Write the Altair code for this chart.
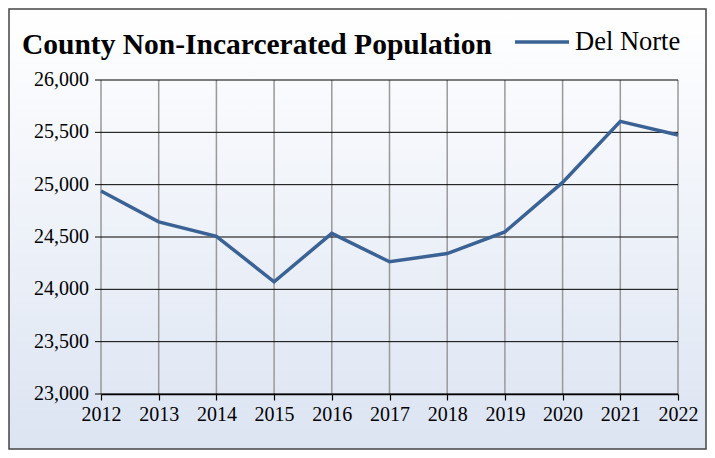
import altair as alt
import pandas as pd

years = [2012, 2013, 2014, 2015, 2016, 2017, 2018, 2019, 2020, 2021, 2022]
population = [24940, 24645, 24507, 24072, 24535, 24263, 24342, 24549, 25022, 25605, 25474]
series_name = "Del Norte"
y_ticks = [23000, 23500, 24000, 24500, 25000, 25500, 26000]

df = pd.DataFrame({"year": years, "population": population, "series": [series_name] * len(years)})
df_x = pd.DataFrame({"year": years})
df_y = pd.DataFrame({"population": y_ticks})

W, H = 577, 314
PAD = {"left": 93, "top": 72, "right": 29, "bottom": 56}
FONT = "Liberation Serif"
FONT_STACK = "Liberation Serif, Times New Roman, serif"

x_scale = alt.Scale(domain=[2012, 2022], nice=False)
y_scale = alt.Scale(domain=[23000, 26000], nice=False)

x_axis = alt.Axis(values=years, format="d", title=None, grid=False, zindex=1,
                  tickColor="#000000", labelFlush=False,
                  tickSize=6, tickWidth=1.2, domainColor="#000000", domainWidth=1.5,
                  labelFont=FONT_STACK, labelFontSize=20, labelColor="#000000",
                  labelPadding=4)

bg = alt.Chart(pd.DataFrame({"a": [0]})).mark_rect(
    fill=alt.LinearGradient(
        gradient="linear", x1=0, y1=0, x2=0, y2=1,
        stops=[alt.GradientStop(color="#ffffff", offset=0),
               alt.GradientStop(color="#dce4f2", offset=1)],
    ),
    stroke="#444444", strokeWidth=1.5,
).encode(
    x=alt.value(-PAD["left"] + 1), x2=alt.value(W + PAD["right"] - 1),
    y=alt.value(-PAD["top"] + 1), y2=alt.value(H + PAD["bottom"] - 1),
)

vgrid = alt.Chart(df_x).mark_rule(color="#999999", strokeWidth=1.5).encode(
    x=alt.X("year:Q", scale=x_scale, axis=x_axis)
)
# horizontal gridlines, extended left to form the outward y-axis ticks
hgrid = alt.Chart(df_y).mark_rule(color="#000000", strokeWidth=1).encode(
    y=alt.Y("population:Q", scale=y_scale, axis=None),
    x=alt.value(-6), x2=alt.value(W),
)
ylabels = alt.Chart(df_y).mark_text(
    align="right", baseline="middle", font=FONT_STACK, fontSize=20, color="#000000"
).encode(
    y=alt.Y("population:Q", scale=y_scale, axis=None),
    text=alt.Text("population:Q", format=","),
    x=alt.value(-12),
)

line = alt.Chart(df).mark_line(strokeWidth=3.5).encode(
    x=alt.X("year:Q", scale=x_scale, axis=x_axis),
    y=alt.Y("population:Q", scale=y_scale, axis=None),
    color=alt.Color("series:N", scale=alt.Scale(range=["#3a6294"]),
                    legend=alt.Legend(title=None, orient="none", legendX=412, legendY=-67,
                                      symbolType="stroke", symbolSize=2916,
                                      symbolStrokeWidth=3.5, labelFont=FONT,
                                      labelFontSize=26.5, labelColor="#000000",
                                      labelOffset=4, padding=0, zindex=1)),
)

chart = alt.layer(bg, vgrid, hgrid, ylabels, line).properties(
    width=W, height=H,
    title=alt.TitleParams("County Non-Incarcerated Population", font=FONT, fontSize=29.5,
                          fontWeight="bold", color="#000000", anchor="start",
                          frame="group", dx=-79, dy=52, offset=0, zindex=1),
    autosize=alt.AutoSizeParams(type="none"),
    padding=PAD,
).configure_view(stroke="#000000", strokeWidth=1.5)

chart.save("out.html", embed_options={"renderer": "svg", "actions": False})
